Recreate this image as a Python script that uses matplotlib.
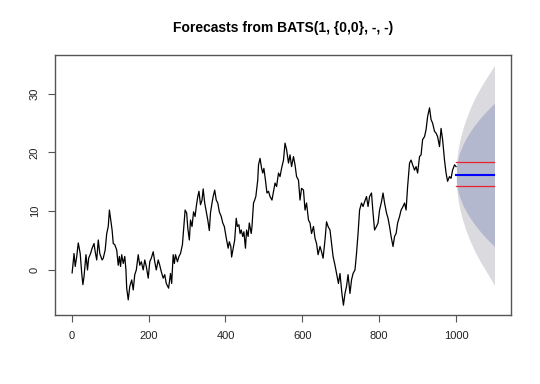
import matplotlib
matplotlib.use("Agg")
import matplotlib.pyplot as plt

plt.rcParams['font.family'] = ['Liberation Sans', 'DejaVu Sans']

series_x = [1, 6, 9, 13, 17, 22, 26, 29, 32, 37, 41, 44, 49, 53, 58, 61, 65, 69, 73, 79,
            82, 87, 91, 95, 98, 102, 105, 108, 112, 117, 121, 124, 127, 130, 134, 138, 141, 143, 147, 151,
            156, 160, 164, 168, 173, 177, 181, 186, 190, 194, 199, 203, 207, 212, 216, 220, 225, 229, 233, 238,
            242, 246, 252, 257, 260, 264, 267, 270, 275, 279, 283, 288, 291, 295, 299, 302, 306, 309, 313, 317,
            321, 324, 328, 331, 335, 339, 342, 346, 350, 354, 358, 361, 365, 368, 372, 376, 380, 384, 389, 393,
            397, 400, 403, 407, 410, 414, 416, 420, 424, 428, 431, 435, 438, 441, 445, 448, 452, 455, 459, 462,
            467, 469, 473, 476, 479, 484, 486, 490, 494, 497, 500, 504, 508, 512, 516, 521, 525, 529, 533, 538,
            542, 546, 551, 555, 559, 564, 568, 572, 577, 581, 585, 590, 594, 598, 603, 607, 611, 616, 620, 624,
            629, 633, 637, 641, 646, 650, 654, 659, 663, 667, 672, 676, 680, 685, 689, 694, 698, 703, 707, 711,
            715, 719, 724, 728, 732, 737, 741, 745, 749, 754, 758, 762, 767, 771, 775, 780, 784, 788, 793, 797,
            801, 806, 810, 814, 819, 823, 827, 831, 836, 840, 844, 848, 853, 857, 862, 866, 870, 874, 879, 883,
            887, 892, 896, 900, 905, 909, 913, 918, 922, 926, 931, 935, 939, 944, 948, 952, 957, 961, 965, 970,
            974, 978, 983, 987, 991, 996, 1000]
series_y = [-0.5, 2.8, 0.6, 2.3, 4.6, 2.8, -0.6, -2.5, -1.1, 2.6, 0.0, 2.0, 2.8, 3.7, 4.5, 3.1, 1.7, 5.1, 2.8, 1.7,
            2.0, 3.4, 6.2, 7.4, 10.2, 8.2, 6.8, 4.5, 4.3, 3.4, 0.8, 2.3, 0.6, 2.6, 1.1, 2.3, 0.0, -3.1, -5.1, -2.8,
            -1.7, -3.4, -0.8, 0.0, 2.6, 0.8, 1.4, 0.0, 1.7, 0.6, -1.4, 1.4, 2.0, 3.1, 1.4, 0.0, 1.7, 0.8, -0.3, -1.4,
            -0.8, -2.3, -3.1, -0.6, -2.3, 2.6, 1.1, 2.6, 1.4, 2.3, 2.8, 4.3, 6.8, 10.2, 9.7, 7.1, 5.1, 8.5, 7.4, 9.9,
            9.1, 10.8, 12.5, 13.4, 11.1, 11.9, 13.8, 11.4, 9.9, 8.5, 6.7, 9.7, 11.4, 12.5, 13.6, 11.9, 11.4, 9.9, 9.1, 8.0,
            7.4, 6.2, 5.1, 3.7, 4.8, 4.0, 2.2, 3.7, 5.1, 8.8, 7.4, 7.7, 6.2, 6.8, 5.7, 6.5, 3.7, 6.8, 5.7, 8.0,
            6.2, 7.4, 11.4, 11.9, 12.5, 15.3, 17.9, 19.0, 17.3, 16.5, 17.3, 15.3, 13.1, 13.4, 12.5, 11.9, 13.4, 14.8, 14.2, 16.5,
            15.9, 17.3, 18.7, 21.6, 20.5, 18.2, 19.6, 17.6, 19.3, 17.9, 15.9, 15.3, 11.9, 13.9, 13.6, 10.2, 11.4, 8.5, 8.0, 6.2,
            7.4, 5.4, 4.5, 2.6, 4.0, 3.1, 2.0, 5.1, 8.2, 7.4, 6.8, 4.5, 2.3, 0.8, -0.6, -2.3, -0.6, -4.0, -6.0, -4.0,
            -2.8, -0.8, -4.0, -1.7, -0.6, 0.0, 2.8, 6.2, 10.2, 11.4, 10.8, 11.6, 12.5, 10.8, 12.5, 13.1, 9.7, 6.8, 7.4, 8.0,
            10.2, 11.6, 13.1, 11.4, 9.7, 8.8, 7.4, 5.7, 4.0, 5.7, 6.2, 8.0, 9.1, 10.2, 10.8, 11.4, 10.2, 14.2, 18.2, 18.7,
            17.9, 17.0, 17.6, 16.5, 19.3, 19.6, 22.2, 22.7, 23.9, 26.1, 27.6, 25.6, 25.0, 23.6, 23.3, 22.7, 21.0, 24.1, 22.2, 18.7,
            16.5, 15.1, 15.9, 15.6, 17.0, 17.9, 17.6]

# Forecast
fc_x = [1001, 1002, 1004, 1006, 1009, 1013, 1018, 1026, 1036, 1050, 1065, 1080, 1100]
fc_mean = [16.2] * len(fc_x)
hi80 = [17.4, 17.9, 18.6, 19.2, 19.9, 20.6, 21.4, 22.4, 23.5, 24.8, 26.0, 27.1, 28.4]
lo80 = [15.0, 14.5, 13.8, 13.2, 12.5, 11.8, 11.0, 10.0, 8.9, 7.6, 6.4, 5.3, 4.0]
hi95 = [18.1, 18.8, 19.9, 20.8, 21.8, 22.9, 24.1, 25.7, 27.4, 29.4, 31.2, 32.8, 34.8]
lo95 = [14.3, 13.6, 12.5, 11.6, 10.6, 9.5, 8.3, 6.7, 5.0, 3.0, 1.2, -0.4, -2.6]
red_x = [1001, 1100]
red_hi = [18.3, 18.3]
red_lo = [14.3, 14.3]

x_ticks = [0, 200, 400, 600, 800, 1000]
y_ticks = [0, 10, 20, 30]
title = "Forecasts from BATS(1, {0,0}, -, -)"

fig = plt.figure(figsize=(5.4, 3.84), dpi=100)
ax = fig.add_axes([0.1019, 0.1797, 0.8444, 0.6771])

ax.fill_between(fc_x, lo95, hi95, color='#DBDBDF', linewidth=0)
ax.fill_between(fc_x, lo80, hi80, color='#B4B8CE', linewidth=0)
ax.plot(series_x, series_y, color='black', linewidth=0.9)
ax.plot(red_x, red_hi, color='#E8232B', linewidth=0.9)
ax.plot(red_x, red_lo, color='#E8232B', linewidth=0.9)
ax.plot(fc_x, fc_mean, color='#0000FF', linewidth=1.5)

ax.set_xlim(-43.5, 1143)
ax.set_ylim(-7.67, 36.6)
ax.set_xticks(x_ticks)
ax.set_yticks(y_ticks)
ax.set_xticklabels([str(v) for v in x_ticks], fontsize=8, color='#222222')
ax.set_yticklabels([str(v) for v in y_ticks], fontsize=8, color='#222222',
                   rotation=90, va='center')
ax.tick_params(axis='x', length=5, width=0.8, color='#555555', pad=6.5)
ax.tick_params(axis='y', length=5, width=0.8, color='#555555', pad=6)
for s in ax.spines.values():
    s.set_color('#555555')
    s.set_linewidth(1.0)

fig.text(0.5241, 0.927, title, ha='center', va='center', fontsize=10, fontweight='bold')

fig.savefig('out.png', dpi=100)
